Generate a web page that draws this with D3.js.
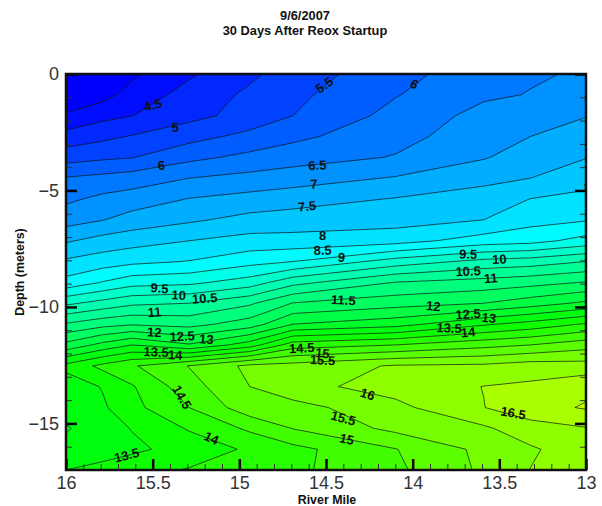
<!DOCTYPE html>
<html>
<head>
<meta charset="utf-8">
<script src="https://d3js.org/d3.v7.min.js"></script>
<style>
html, body { margin: 0; padding: 0; background: #fff; }
text { font-family: "Liberation Sans", Arial, sans-serif; }
.axis path { display: none; }
.axis text { font-size: 18px; fill: #333; }
.major line { stroke: #000; stroke-width: 2.5px; }
.minor line { stroke: #333; stroke-width: 1px; }
.title, .axisTitle { font-weight: bold; fill: #111; }
.title { font-size: 12.8px; }
.axisTitle { font-size: 12.4px; }
.labels { font-size: 13px; font-weight: bold; fill: #111; }
</style>
</head>
<body>
<script>
// grid stations
var riverMiles = [16, 15.79, 15.62, 15.29, 14.94, 14.69, 14.10, 13.59, 13.32, 13];
var depths = [0, -0.89, -1.79, -2.68, -3.58, -4.47, -5.37, -6.26, -7.16, -8.05,
    -8.95, -9.84, -10.74, -11.63, -12.53, -13.42, -14.32, -15.21, -16.11, -17];

// one row per depth, one column per river mile
var readings = [
    [3.0, 3.45, 3.9, 4.43, 4.9, 5.25, 5.8, 6.33, 6.45, 6.55],
    [3.45, 3.82, 4.2, 4.68, 5.1, 5.38, 5.97, 6.42, 6.52, 6.74],
    [4.08, 4.36, 4.49, 4.85, 5.18, 5.5, 6.16, 6.66, 6.76, 6.98],
    [4.68, 4.88, 5.03, 5.32, 5.64, 5.88, 6.34, 6.76, 7.0, 7.23],
    [5.29, 5.41, 5.48, 5.87, 6.13, 6.28, 6.53, 6.96, 7.25, 7.48],
    [6.04, 6.14, 6.24, 6.5, 6.65, 6.76, 7.04, 7.37, 7.5, 7.81],
    [6.40, 6.62, 6.73, 7.02, 7.18, 7.29, 7.53, 7.71, 8.01, 8.14],
    [6.79, 6.98, 7.2, 7.42, 7.66, 7.73, 7.8, 8.0, 8.33, 8.46],
    [7.44, 7.69, 7.8, 8.0, 8.18, 8.18, 8.3, 8.73, 8.83, 9.18],
    [8.08, 8.25, 8.38, 8.52, 8.83, 9.0, 9.72, 10.15, 10.25, 10.5],
    [8.67, 9.03, 9.3, 9.39, 9.74, 10.34, 11.02, 11.2, 11.33, 11.53],
    [9.9, 10.18, 10.4, 10.5, 10.92, 11.52, 11.8, 12.0, 12.26, 12.6],
    [11.05, 11.32, 11.45, 11.33, 11.74, 12.5, 12.8, 13.43, 13.68, 14.05],
    [12.15, 12.65, 13.0, 12.55, 13.25, 14.25, 14.5, 14.83, 15.0, 15.29],
    [13.65, 14.13, 14.44, 15.02, 15.62, 15.7, 16.05, 16.1, 16.25, 16.21],
    [13.2, 13.53, 13.95, 14.8, 15.5, 15.84, 16.2, 16.51, 16.59, 16.87],
    [13.2, 13.42, 13.85, 14.5, 15.3, 15.31, 15.86, 16.49, 16.8, 17.05],
    [12.95, 13.3, 13.52, 14.05, 14.59, 15.02, 15.63, 15.92, 16.3, 16.47],
    [13.15, 13.2, 13.4, 13.69, 14.08, 14.35, 14.98, 15.63, 15.93, 16.3],
    [13.5, 13.7, 13.8, 14.04, 14.3, 14.4, 14.9, 15.59, 16.01, 16.2]
];

var contourLevels = [4, 4.5, 5, 5.5, 6, 6.5, 7, 7.5, 8, 8.5, 9, 9.5, 10, 10.5, 11,
    11.5, 12, 12.5, 13, 13.5, 14, 14.5, 15, 15.5, 16, 16.5, 17];

// contour labels
var labelText = ['4.5', '5', '6', '5.5', '6', '6.5', '7', '7.5', '8', '8.5', '9',
    '9.5', '10', '10.5', '11', '11.5', '12', '12.5', '13', '13.5', '14',
    '9.5', '10', '10.5', '11', '12', '12.5', '13', '13.5', '14',
    '14.5', '15', '15.5', '14.5', '14', '13.5', '15', '15.5', '16', '16.5', '8'];
var labelMile = [15.50, 15.37, 15.45, 14.51, 13.99, 14.55, 14.57, 14.61, 14.52, 14.52, 14.41,
    13.68, 13.50, 13.68, 13.55, 14.40, 13.88, 13.68, 13.56, 13.79, 13.68,
    15.46, 15.35, 15.20, 15.49, 15.49, 15.33, 15.19, 15.48, 15.37,
    14.64, 14.52, 14.52, 15.33, 15.16, 15.65, 14.38, 14.40, 14.26, 13.42, 12.99];
var labelDepth = [-1.33, -2.28, -3.91, -0.47, -0.43, -3.91, -4.72, -5.67, -6.91, -7.56, -7.86,
    -7.73, -7.94, -8.46, -8.76, -9.70, -9.96, -10.30, -10.47, -10.90, -11.08,
    -9.19, -9.49, -9.62, -10.22, -11.08, -11.25, -11.38, -11.93, -12.06,
    -11.76, -11.98, -12.28, -13.87, -15.63, -16.36, -15.67, -14.77, -13.74, -14.55, -4.85];
var labelAngle = [-15, -3, -3, -35, 30, -3, -3, -6, 0, -2, 5,
    2, -2, -2, -4, 3, 5, -4, 6, 3, -5,
    4, 3, -4, -5, 4, -3, 5, 3, 2,
    -3, 5, 3, 60, 25, -14, 13, 15, 18, 10, -8];

var xMajor = [16, 15.5, 15, 14.5, 14, 13.5, 13];
var xMinor = [15.9, 15.8, 15.7, 15.6, 15.4, 15.3, 15.2, 15.1, 14.9, 14.8, 14.7, 14.6,
    14.4, 14.3, 14.2, 14.1, 13.9, 13.8, 13.7, 13.6, 13.4, 13.3, 13.2, 13.1];
var yMajor = [0, -5, -10, -15];
var yMinor = [-1, -2, -3, -4, -6, -7, -8, -9, -11, -12, -13, -14, -16, -17];

window.onload = function() {
    var w = 602, h = 506;
    var left = 66, right = 586, top = 74, bottom = 470;

    var svg = d3.select('body')
        .append('svg')
        .attr('width', w)
        .attr('height', h)
        .style('display', 'block');

    var x = d3.scaleLinear().domain([16, 13]).range([left, right]);
    var y = d3.scaleLinear().domain([0, -17]).range([top, bottom]);

    // small rainbow, one flat colour per band
    var color = d3.scaleLinear()
        .domain([4, 8.8, 13.5, 18.4])
        .range(['#0000ff', '#00ffff', '#00ff00', '#ffff00']);

    // d3.contours works on cell centres of an even grid, so map its
    // index space back to the uneven stations
    var colToMile = d3.scaleLinear().domain(d3.range(riverMiles.length)).range(riverMiles);
    var rowToDepth = d3.scaleLinear().domain(d3.range(depths.length)).range(depths);
    var gridPath = d3.geoPath(d3.geoTransform({
        point: function(cx, cy) {
            this.stream.point(x(colToMile(cx - 0.5)), y(rowToDepth(cy - 0.5)));
        }
    }));

    var contours = d3.contours()
        .size([riverMiles.length, depths.length])
        .thresholds(contourLevels)
        (d3.merge(readings));

    svg.append('clipPath')
        .attr('id', 'plotClip')
        .append('rect')
        .attr('x', left)
        .attr('y', top)
        .attr('width', right - left)
        .attr('height', bottom - top);

    var plot = svg.append('g').attr('clip-path', 'url(#plotClip)');

    plot.append('rect')
        .attr('x', left)
        .attr('y', top)
        .attr('width', right - left)
        .attr('height', bottom - top)
        .style('fill', color(3.75));

    plot.selectAll('.band')
        .data(contours)
        .enter()
        .append('path')
        .attr('class', 'band')
        .attr('d', gridPath)
        .style('fill', function(d) {
            return color(d.value + 0.25);
        });

    plot.selectAll('.line')
        .data(contours)
        .enter()
        .append('path')
        .attr('class', 'line')
        .attr('d', gridPath)
        .style('fill', 'none')
        .style('stroke', '#111')
        .style('stroke-width', 0.7);

    plot.selectAll('.labels')
        .data(labelText)
        .enter()
        .append('text')
        .attr('class', 'labels')
        .attr('text-anchor', 'middle')
        .attr('dy', '0.36em')
        .attr('transform', function(d, i) {
            return 'translate(' + x(labelMile[i]) + ',' + y(labelDepth[i]) + ') rotate(' + labelAngle[i] + ')';
        })
        .text(function(d) {
            return d;
        });

    // ticks
    svg.append('g')
        .attr('class', 'axis minor')
        .attr('transform', 'translate(0,' + bottom + ')')
        .call(d3.axisBottom(x).tickValues(xMinor).tickSize(-6).tickFormat(''));
    svg.append('g')
        .attr('class', 'axis major')
        .attr('transform', 'translate(0,' + bottom + ')')
        .call(d3.axisBottom(x).tickValues(xMajor).tickSize(-11).tickFormat(d3.format('')))
        .selectAll('text')
        .attr('y', 3)
        .attr('dy', '0.9em');
    svg.append('g')
        .attr('class', 'axis minor')
        .attr('transform', 'translate(' + left + ',0)')
        .call(d3.axisLeft(y).tickValues(yMinor).tickSize(-6).tickFormat(''));
    svg.append('g')
        .attr('class', 'axis major')
        .attr('transform', 'translate(' + left + ',0)')
        .call(d3.axisLeft(y).tickValues(yMajor).tickSize(-11).tickFormat(d3.format('')))
        .selectAll('text')
        .attr('x', -7);
    svg.append('g')
        .attr('class', 'axis minor')
        .attr('transform', 'translate(' + right + ',0)')
        .call(d3.axisRight(y).tickValues(yMinor).tickSize(-6).tickFormat(''));
    svg.append('g')
        .attr('class', 'axis major')
        .attr('transform', 'translate(' + right + ',0)')
        .call(d3.axisRight(y).tickValues(yMajor).tickSize(-11).tickFormat(''));

    svg.append('rect')
        .attr('x', left)
        .attr('y', top)
        .attr('width', right - left)
        .attr('height', bottom - top)
        .style('fill', 'none')
        .style('stroke', '#111')
        .style('stroke-width', 2.5);

    svg.append('text')
        .attr('class', 'title')
        .attr('text-anchor', 'middle')
        .attr('x', 305)
        .attr('y', 19.5)
        .text('9/6/2007');
    svg.append('text')
        .attr('class', 'title')
        .attr('text-anchor', 'middle')
        .attr('x', 305)
        .attr('y', 34.5)
        .text('30 Days After Reox Startup');

    svg.append('text')
        .attr('class', 'axisTitle')
        .attr('text-anchor', 'middle')
        .attr('x', 327)
        .attr('y', 504)
        .text('River Mile');
    svg.append('text')
        .attr('class', 'axisTitle')
        .attr('text-anchor', 'middle')
        .attr('transform', 'translate(24,272) rotate(-90)')
        .text('Depth (meters)');
};
</script>
</body>
</html>
